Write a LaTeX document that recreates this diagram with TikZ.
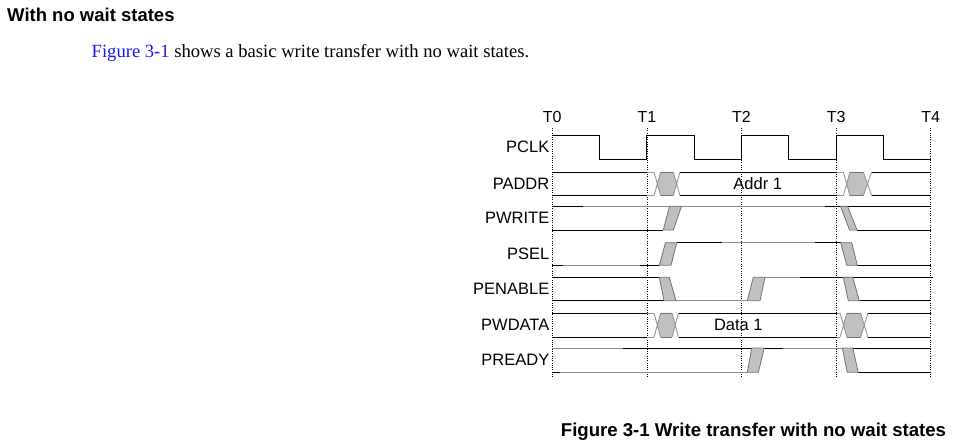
\documentclass[tikz,border=0pt]{standalone}
\usepackage{fontspec}
\setmainfont{Liberation Serif}
\setsansfont{Liberation Sans}
\definecolor{busfill}{RGB}{192,192,192}
\definecolor{busedge}{RGB}{115,115,115}
\definecolor{faintln}{RGB}{140,140,140}
\definecolor{xln}{RGB}{150,150,150}
\definecolor{linkblue}{RGB}{25,25,235}
\newcommand\buscross[6]{%
  \fill[busfill] ({(#1+#2)/2},{(#5+#6)/2}) -- (#2,#5) -- (#3,#5) -- ({(#3+#4)/2},{(#5+#6)/2}) -- (#3,#6) -- (#2,#6) -- cycle;
  \draw[transedge] (#2,#5)--(#3,#5) (#2,#6)--(#3,#6);
  \draw[xline] (#1,#5)--(#2,#6) (#1,#6)--(#2,#5) (#3,#5)--(#4,#6) (#3,#6)--(#4,#5);
}
\begin{document}
\begin{tikzpicture}[x=1pt,y=-1pt,
  sig/.style={line width=0.95pt,black},
  faint/.style={line width=0.95pt,faintln},
  xline/.style={line width=0.9pt,xln},
  transedge/.style={line width=0.8pt,busedge},
  trans/.style={fill=busfill,draw=busedge,line width=0.8pt,line join=miter},
  tickline/.style={line width=0.8pt,dash pattern=on 1pt off 1.3pt},
  lab/.style={font=\sffamily\fontsize{16.5}{18}\selectfont,inner sep=0pt,anchor=base east},
  tlab/.style={font=\sffamily\fontsize{16}{18}\selectfont,inner sep=0pt,anchor=base},
  vallab/.style={font=\sffamily\fontsize{16.5}{18}\selectfont,inner sep=0pt,anchor=base}]
\useasboundingbox (0,0) rectangle (953,446);

% heading and sentence
\node[font=\sffamily\bfseries\fontsize{18.5}{22}\selectfont,inner sep=0pt,anchor=base west] (head) at (7,22) {With no wait states};
\node[font=\fontsize{18.6}{22}\selectfont,inner sep=0pt,anchor=base west] (intro) at (91.5,57.5) {\textcolor{linkblue}{Figure 3-1} shows a basic write transfer with no wait states.};

% time markers
\foreach \t/\n in {552.3/0,646.9/1,741.5/2,836.1/3,930.7/4}{
  \coordinate (tt\n) at (\t,128);
  \coordinate (tb\n) at (\t,378);
  \draw[tickline] (tt\n) -- (tb\n);
  \node[tlab] (T\n) at (\t,122.7) {T\n};
}

% signal labels
\node[lab] (lpclk) at (549.5,153) {PCLK};
\node[lab] (lpaddr) at (549.5,189.6) {PADDR};
\node[lab] (lpwrite) at (549.5,224) {PWRITE};
\node[lab] (lpsel) at (549.5,259.7) {PSEL};
\node[lab] (lpenable) at (549.5,294.7) {PENABLE};
\node[lab] (lpwdata) at (549.5,330.9) {PWDATA};
\node[lab] (lpready) at (549.5,365.9) {PREADY};

% PCLK
\draw[sig] (552.3,135.3) -- (599.3,135.3) -- (599.3,159.3) -- (646.9,159.3) -- (646.9,135.3)
  -- (694.7,135.3) -- (694.7,159.3) -- (741.5,159.3) -- (741.5,135.3) -- (788.3,135.3)
  -- (788.3,159.3) -- (836.1,159.3) -- (836.1,135.3) -- (883.3,135.3) -- (883.3,159.3) -- (930.7,159.3);

% PADDR
\draw[sig] (552.3,172) -- (647,172) (552.3,195.7) -- (647,195.7);
\draw[xline] (647,172) -- (654,172) (647,195.7) -- (654,195.7);
\buscross{654}{660.7}{673.3}{680}{172}{195.7}
\draw[sig] (680,172) -- (836.5,172) (680,195.7) -- (836.5,195.7);
\draw[xline] (836.5,172) -- (843.3,172) (836.5,195.7) -- (843.3,195.7);
\buscross{843.3}{850}{863.3}{871.7}{172}{195.7}
\draw[sig] (871.7,172) -- (930.7,172) (871.7,195.7) -- (930.7,195.7);
\node[vallab] (addr) at (757.7,189.6) {Addr 1};

% PWRITE
\draw[sig] (552.3,206.3) -- (583,206.3);
\draw[faint] (583,206.3) -- (825,206.3);
\draw[sig] (825,206.3) -- (930.7,206.3);
\draw[sig] (552.3,230) -- (663.3,230) (857,230) -- (930.7,230);
\draw[trans] (663.3,230) -- (673.3,230) -- (681.5,206.3) -- (669.5,206.3) -- cycle;
\draw[trans] (840.5,206.3) -- (847.5,206.3) -- (857,230) -- (849.5,230) -- cycle;

% PSEL
\draw[sig] (552.3,265.3) -- (563,265.3) (640,265.3) -- (659.3,265.3);
\draw[faint] (563,265.3) -- (640,265.3);
\draw[sig] (676.7,242.7) -- (722,242.7) (815,242.7) -- (840.7,242.7);
\draw[faint] (722,242.7) -- (815,242.7);
\draw[sig] (857.3,265.3) -- (930.7,265.3);
\draw[trans] (659.3,265.3) -- (671,265.3) -- (676.7,242.7) -- (665.5,242.7) -- cycle;
\draw[trans] (840.7,242.7) -- (851.7,242.7) -- (857.3,265.3) -- (846.7,265.3) -- cycle;

% PENABLE
\draw[sig] (552.3,277.3) -- (659.3,277.3);
\draw[sig] (552.3,300.7) -- (664,300.7);
\draw[faint] (676,300.7) -- (747.3,300.7);
\draw[faint] (765,277.3) -- (800,277.3);
\draw[sig] (800,277.3) -- (933,277.3);
\draw[sig] (859.3,300.7) -- (930.7,300.7);
\draw[trans] (659.3,277.3) -- (669.3,277.3) -- (676,300.7) -- (664,300.7) -- cycle;
\draw[trans] (747.3,300.7) -- (760,300.7) -- (765,277.3) -- (753.3,277.3) -- cycle;
\draw[trans] (843.3,277.3) -- (852.7,277.3) -- (859.3,300.7) -- (848.3,300.7) -- cycle;

% PWDATA
\draw[sig] (552.3,313) -- (647,313) (552.3,337.3) -- (647,337.3);
\draw[xline] (647,313) -- (654,313) (647,337.3) -- (654,337.3);
\buscross{654}{660.7}{672}{678.5}{313}{337.3}
\draw[sig] (678.5,313) -- (836.5,313) (678.5,337.3) -- (836.5,337.3);
\draw[xline] (836.5,313) -- (840,313) (836.5,337.3) -- (840,337.3);
\buscross{840}{847}{860.5}{868}{313}{337.3}
\draw[sig] (868,313) -- (930.7,313) (868,337.3) -- (930.7,337.3);
\node[vallab] (data) at (738.3,330.9) {Data 1};

% PREADY
\draw[faint] (552.3,348) -- (623,348);
\draw[sig] (623,348) -- (783,348);
\draw[faint] (783,348) -- (850,348);
\draw[sig] (850,348) -- (930.7,348);
\draw[sig] (552.3,372.3) -- (560,372.3);
\draw[faint] (560,372.3) -- (747.3,372.3);
\draw[sig] (858.3,372.3) -- (930.7,372.3);
\draw[trans] (747.3,372.3) -- (758.3,372.3) -- (764.3,348) -- (751.7,348) -- cycle;
\draw[trans] (842.3,348) -- (852.7,348) -- (858.3,372.3) -- (847.3,372.3) -- cycle;

% caption
\node[font=\sffamily\bfseries\fontsize{18.6}{22}\selectfont,inner sep=0pt,anchor=base west] (caption) at (560.7,436) {Figure 3-1 Write transfer with no wait states};
\end{tikzpicture}
\end{document}
